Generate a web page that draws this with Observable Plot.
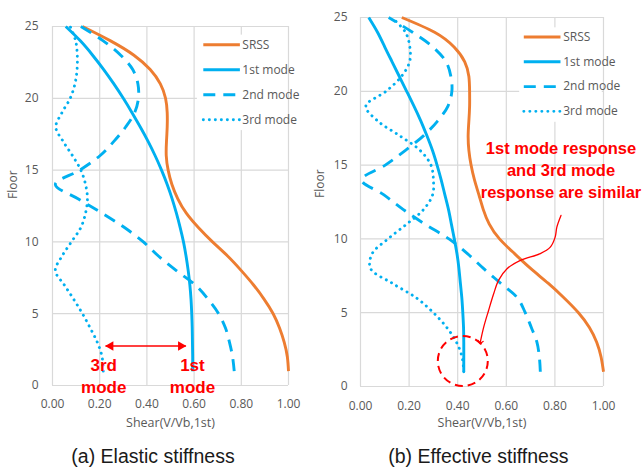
<!DOCTYPE html>
<html>
<head>
<meta charset="utf-8">
<script src="https://cdn.jsdelivr.net/npm/d3@7"></script>
<script src="https://cdn.jsdelivr.net/npm/@observablehq/plot@0.6"></script>
<style>
  html, body { margin: 0; padding: 0; background: #fff; }
  #page { position: relative; width: 642px; height: 469px; overflow: hidden; background: #fff; }
  .panel { position: absolute; top: 0; }
  .panel svg { overflow: visible; }
  #captions { position: absolute; left: 0; top: 0; }
</style>
</head>
<body>
<div id="page"></div>
<script>
// Storey numbers and axis ticks
const floors = d3.range(1, 26);
const shearTicks = [0, 0.2, 0.4, 0.6, 0.8, 1.0];
const floorTicks = [0, 5, 10, 15, 20, 25];
const seriesNames = ["SRSS", "1st mode", "2nd mode", "3rd mode"];
const captions = ["(a) Elastic stiffness", "(b) Effective stiffness"];
const shearLabel = "Shear(V/Vb,1st)";
const floorLabel = "Floor";

// (a) Elastic stiffness: storey shear per floor 1..25, normalised by 1st-mode base shear
const elasticSRSS = [1.00, 0.995, 0.982, 0.962, 0.935, 0.897, 0.852, 0.80, 0.743, 0.678, 0.618, 0.567, 0.531, 0.506, 0.49, 0.482, 0.483, 0.486, 0.486, 0.479, 0.457, 0.414, 0.345, 0.246, 0.127];
const elasticMode1 = [0.594, 0.594, 0.593, 0.592, 0.59, 0.587, 0.582, 0.575, 0.566, 0.555, 0.541, 0.525, 0.507, 0.486, 0.462, 0.435, 0.405, 0.372, 0.337, 0.30, 0.26, 0.217, 0.17, 0.118, 0.056];
const elasticMode2 = [0.77, 0.763, 0.75, 0.733, 0.704, 0.66, 0.605, 0.525, 0.45, 0.385, 0.305, 0.21, 0.108, 0.012, 0.116, 0.201, 0.26, 0.31, 0.348, 0.364, 0.362, 0.34, 0.289, 0.215, 0.12];
const elasticMode3 = [0.215, 0.21, 0.19, 0.16, 0.127, 0.09, 0.05, 0.012, 0.04, 0.08, 0.12, 0.14, 0.148, 0.14, 0.12, 0.085, 0.045, 0.014, 0.04, 0.075, 0.095, 0.104, 0.105, 0.098, 0.075];

// (b) Effective stiffness
const effectiveSRSS = [1.00, 0.99, 0.972, 0.942, 0.897, 0.838, 0.772, 0.70, 0.634, 0.572, 0.53, 0.505, 0.487, 0.469, 0.455, 0.446, 0.443, 0.446, 0.449, 0.449, 0.446, 0.429, 0.385, 0.305, 0.17];
const effectiveMode1 = [0.425, 0.425, 0.425, 0.424, 0.421, 0.417, 0.411, 0.405, 0.397, 0.386, 0.374, 0.362, 0.347, 0.332, 0.315, 0.296, 0.273, 0.248, 0.22, 0.19, 0.16, 0.13, 0.10, 0.07, 0.034];
const effectiveMode2 = [0.74, 0.736, 0.726, 0.703, 0.678, 0.646, 0.576, 0.506, 0.44, 0.364, 0.265, 0.175, 0.095, 0.005, 0.102, 0.185, 0.26, 0.318, 0.36, 0.376, 0.372, 0.352, 0.298, 0.214, 0.116];
const effectiveMode3 = [0.425, 0.418, 0.395, 0.355, 0.30, 0.23, 0.13, 0.041, 0.048, 0.113, 0.19, 0.26, 0.297, 0.30, 0.29, 0.245, 0.16, 0.07, 0.022, 0.105, 0.168, 0.202, 0.203, 0.185, 0.129];

// Annotations (data units: shear, floor)
const elasticArrowShear = [0.225, 0.565];
const elasticArrowFloor = 2.75;
const elasticNoteText = ["3rd", "mode", "1st", "mode"];
const elasticNoteShear = [0.217, 0.217, 0.593, 0.593];
const elasticNoteFloor = [1.0, -0.5, 1.0, -0.5];

const effectiveNoteText = ["1st mode response", "and 3rd mode", "response are similar"];
const effectiveNoteShear = [0.825, 0.825, 0.825];
const effectiveNoteFloor = [15.78, 14.26, 12.77];
const leaderShear = [0.825, 0.808, 0.801, 0.781, 0.74, 0.658, 0.603, 0.568, 0.548, 0.527, 0.507, 0.493];
const leaderFloor = [11.59, 10.8, 10.12, 9.44, 9.0, 8.54, 7.98, 7.19, 6.28, 5.15, 4.02, 3.0];
const circleShear = [0.421];
const circleFloor = [1.73];

// Series appearance
const ORANGE = "#ED7D31", BLUE = "#00B0F0", RED = "#FF0000", GRID = "#D9D9D9", INK = "#595959";
const seriesStyle = {
  "SRSS":     {stroke: ORANGE, dash: null, cap: "butt", curve: "natural"},
  "1st mode": {stroke: BLUE, dash: null, cap: "butt", curve: "natural"},
  "2nd mode": {stroke: BLUE, dash: "12 8", cap: "butt", curve: "catmull-rom"},
  "3rd mode": {stroke: BLUE, dash: "0.1 5.9", cap: "round", curve: "catmull-rom"}
};
const FONT = "'Open Sans', 'Noto Sans', sans-serif";
const BOLD = "'Liberation Sans', Arial, sans-serif";

function rows(values) {
  return floors.map((f, i) => ({floor: f, shear: values[i]}));
}

function panel(cfg) {
  const marks = [];
  // gridlines
  marks.push(Plot.ruleX(shearTicks, {stroke: GRID, strokeWidth: 1.2}));
  marks.push(Plot.ruleY(floorTicks, {stroke: GRID, strokeWidth: 1.2}));
  // series lines
  seriesNames.forEach((name, k) => {
    const s = seriesStyle[name];
    marks.push(Plot.line(rows(cfg.series[k]), {
      x: "shear", y: "floor", curve: s.curve,
      stroke: s.stroke, strokeWidth: 2.9,
      strokeDasharray: s.dash, strokeLinecap: s.cap, strokeLinejoin: "round"
    }));
  });
  // legend panel
  const lg = cfg.legend;
  marks.push(Plot.rect([0], {
    x1: lg.box[0], x2: lg.box[1], y1: lg.box[2], y2: lg.box[3], fill: "#fff"
  }));
  seriesNames.forEach((name, k) => {
    const s = seriesStyle[name];
    const y = lg.top - k * lg.step;
    marks.push(Plot.link([name], {
      x1: lg.x1, x2: lg.x2, y1: y, y2: y,
      stroke: s.stroke, strokeWidth: 2.9, strokeDasharray: s.dash, strokeLinecap: s.cap
    }));
    marks.push(Plot.text([name], {
      x: lg.textX, y: y, text: d => d, textAnchor: "start", dx: 1,
      fill: INK, fontSize: 12, fontFamily: FONT
    }));
  });
  // axis titles
  marks.push(Plot.text([shearLabel], {
    frameAnchor: "bottom", dy: cfg.xLabelDy, text: d => d,
    fill: INK, fontSize: 12.5, fontFamily: FONT
  }));
  marks.push(Plot.text([floorLabel], {
    frameAnchor: "left", dx: cfg.yLabelDx, dy: cfg.yLabelDy, rotate: -90, text: d => d,
    fill: INK, fontSize: 12, fontFamily: FONT
  }));
  marks.push(...cfg.extra);
  return Plot.plot({
    width: cfg.width, height: cfg.height,
    marginLeft: cfg.ml, marginRight: cfg.mr, marginTop: cfg.mt, marginBottom: cfg.mb,
    style: {fontFamily: FONT, fontSize: "12px", color: INK, background: "transparent"},
    x: {domain: [0, 1], ticks: shearTicks, tickFormat: d3.format(".2f"), tickSize: 0, tickPadding: cfg.xPad, label: null},
    y: {domain: [0, 25], ticks: floorTicks, tickFormat: d3.format("d"), tickSize: 0, tickPadding: cfg.yPad, label: null},
    marks
  });
}

// (a) annotations: double-headed arrow and mode labels
const elasticExtra = [
  Plot.link([0], {x1: elasticArrowShear[0], x2: elasticArrowShear[1], y1: elasticArrowFloor, y2: elasticArrowFloor, stroke: RED, strokeWidth: 1.3}),
  Plot.dot([0], {x: elasticArrowShear[1], y: elasticArrowFloor, symbol: "triangle", r: 3.6, fill: RED, stroke: "none", rotate: 90, dx: -5}),
  Plot.dot([0], {x: elasticArrowShear[0], y: elasticArrowFloor, symbol: "triangle", r: 3.6, fill: RED, stroke: "none", rotate: -90, dx: 5}),
  Plot.text(elasticNoteText, {
    x: (d, i) => elasticNoteShear[i], y: (d, i) => elasticNoteFloor[i], text: d => d,
    lineAnchor: "bottom", fill: RED, fontWeight: "bold", fontSize: 17, fontFamily: BOLD
  })
];

// (b) annotations: note, curved leader and dashed circle
const effectiveExtra = [
  Plot.text(effectiveNoteText, {
    x: (d, i) => effectiveNoteShear[i], y: (d, i) => effectiveNoteFloor[i], text: d => d,
    lineAnchor: "bottom", fill: RED, fontWeight: "bold", fontSize: 16.5, fontFamily: BOLD
  }),
  Plot.line(leaderShear.map((s, i) => ({shear: s, floor: leaderFloor[i]})), {
    x: "shear", y: "floor", curve: "catmull-rom", stroke: RED, strokeWidth: 1.3, markerEnd: "arrow"
  }),
  Plot.dot(circleShear.map((s, i) => ({shear: s, floor: circleFloor[i]})), {
    x: "shear", y: "floor", r: 25, stroke: RED, strokeWidth: 2, strokeDasharray: "8 5", fill: "none"
  })
];

const page = document.getElementById("page");

const a = panel({
  width: 320, height: 440, ml: 52, mr: 32, mt: 26, mb: 55, xPad: 14, yPad: 14,
  xLabelDy: 41, yLabelDx: -39, yLabelDy: -7,
  series: [elasticSRSS, elasticMode1, elasticMode2, elasticMode3],
  legend: {box: [0.614, 0.995, 17.75, 24.4], x1: 0.639, x2: 0.794, textX: 0.8, top: 23.73, step: 1.74},
  extra: elasticExtra
});
const divA = document.createElement("div");
divA.className = "panel"; divA.style.left = "0px";
divA.appendChild(a); page.appendChild(divA);

const b = panel({
  width: 342, height: 440, ml: 60, mr: 39, mt: 17, mb: 54, xPad: 15, yPad: 13,
  xLabelDy: 40, yLabelDx: -40, yLabelDy: -4,
  series: [effectiveSRSS, effectiveMode1, effectiveMode2, effectiveMode3],
  legend: {box: [0.655, 0.995, 17.9, 24.3], x1: 0.672, x2: 0.823, textX: 0.83, top: 23.68, step: 1.68},
  extra: effectiveExtra
});
const divB = document.createElement("div");
divB.className = "panel"; divB.style.left = "300px";
divB.appendChild(b); page.appendChild(divB);

// Captions under each panel
const cap = d3.create("svg").attr("id", "captions").attr("width", 642).attr("height", 469);
cap.selectAll("text").data(captions).join("text")
  .attr("x", (d, i) => [153, 478.3][i]).attr("y", 463.3)
  .attr("text-anchor", "middle")
  .attr("font-family", "'Liberation Sans', Arial, sans-serif")
  .attr("font-size", 19.5).attr("fill", "#1a1a1a")
  .text(d => d);
page.appendChild(cap.node());
</script>
</body>
</html>
